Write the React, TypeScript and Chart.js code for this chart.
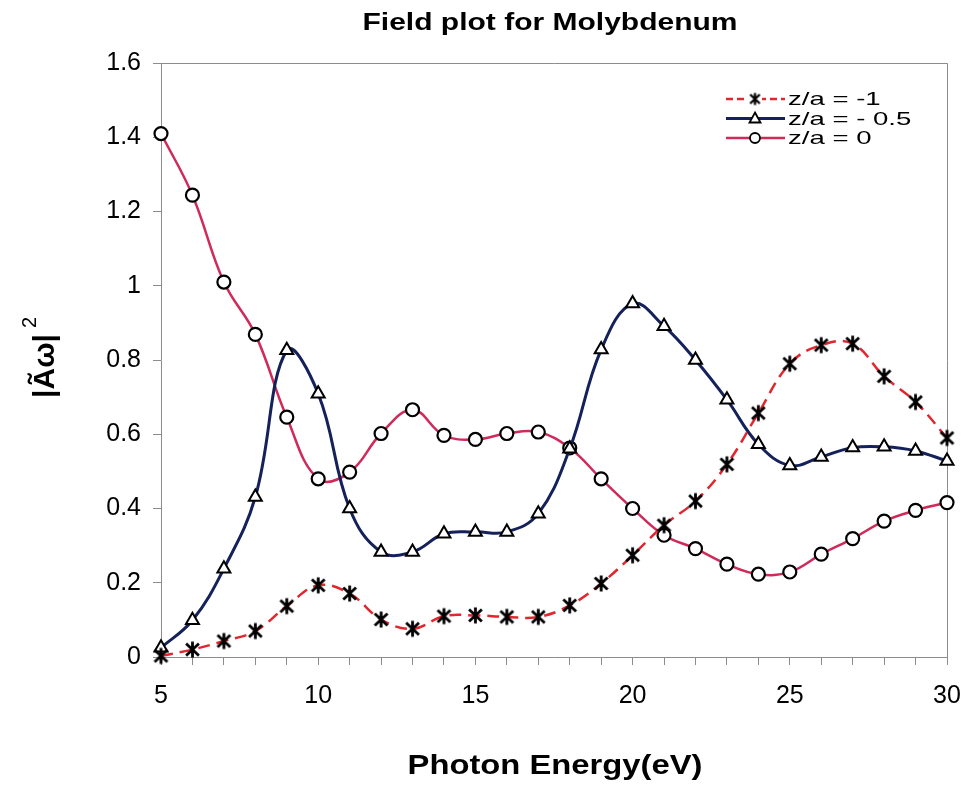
import React, { useEffect, useRef } from 'react';
import { Chart, registerables } from 'chart.js';

Chart.register(...registerables);

const energies = [5, 6, 7, 8, 9, 10, 11, 12, 13, 14, 15, 16, 17, 18, 19, 20, 21, 22, 23, 24, 25, 26, 27, 28, 29, 30];
const zaMinus1 = [0.003, 0.02, 0.043, 0.07, 0.137, 0.193, 0.171, 0.101, 0.076, 0.11, 0.112, 0.108, 0.108, 0.139, 0.198, 0.274, 0.355, 0.42, 0.519, 0.657, 0.79, 0.84, 0.844, 0.756, 0.687, 0.59];
const zaMinusHalf = [0.025, 0.099, 0.238, 0.431, 0.826, 0.709, 0.4, 0.283, 0.283, 0.332, 0.337, 0.337, 0.386, 0.561, 0.828, 0.952, 0.891, 0.8, 0.693, 0.573, 0.516, 0.539, 0.564, 0.566, 0.555, 0.528];
const zaZero = [1.41, 1.244, 1.01, 0.869, 0.646, 0.48, 0.498, 0.602, 0.666, 0.597, 0.586, 0.602, 0.606, 0.563, 0.48, 0.4, 0.328, 0.292, 0.25, 0.223, 0.229, 0.277, 0.319, 0.366, 0.395, 0.416];

const seriesNames = ['z/a = -1', 'z/a = - 0.5', 'z/a = 0'];
const xTickLabels = [5, 10, 15, 20, 25, 30];
const yTickLabels = ['0', '0.2', '0.4', '0.6', '0.8', '1', '1.2', '1.4', '1.6'];
const chartTitle = 'Field plot for Molybdenum';
const xAxisTitle = 'Photon Energy(eV)';
const yAxisTitle = '|Ãω|';
const yAxisTitleSup = '2';

const COLOR_M1 = '#e3262e';
const COLOR_MH = '#14215a';
const COLOR_Z = '#cf2a5a';
const FONT = '"Liberation Sans", Arial, sans-serif';

function makeStar(size: number, lw: number): HTMLCanvasElement {
  const c = document.createElement('canvas');
  c.width = size;
  c.height = size;
  const g = c.getContext('2d')!;
  const m = size / 2;
  const r = size / 2 - 1.5;
  g.strokeStyle = '#000';
  g.lineWidth = lw;
  g.lineCap = 'butt';
  g.beginPath();
  g.moveTo(m, m - r);
  g.lineTo(m, m + r);
  g.moveTo(m - r * 0.8, m - r * 0.75);
  g.lineTo(m + r * 0.8, m + r * 0.75);
  g.moveTo(m + r * 0.8, m - r * 0.75);
  g.lineTo(m - r * 0.8, m + r * 0.75);
  g.stroke();
  return c;
}

function stretchText(ctx: CanvasRenderingContext2D, text: string, x: number, y: number, sx: number, align: CanvasTextAlign) {
  ctx.save();
  ctx.translate(x, y);
  ctx.scale(sx, 1);
  ctx.textAlign = align;
  ctx.fillText(text, 0, 0);
  ctx.restore();
}

export default function App() {
  const ref = useRef<HTMLCanvasElement | null>(null);

  useEffect(() => {
    document.body.style.margin = '0';
    const canvas = ref.current;
    if (!canvas) return;
    const star = makeStar(19, 2.8);
    const starSmall = makeStar(15, 2.3);

    const decor = {
      id: 'decor',
      beforeDatasetsDraw(chart: any) {
        const { ctx, chartArea: a } = chart;
        ctx.save();
        ctx.strokeStyle = '#8c8c8c';
        ctx.lineWidth = 1;
        ctx.beginPath();
        ctx.moveTo(a.left, Math.round(a.top) + 0.5);
        ctx.lineTo(Math.round(a.right) + 0.5, Math.round(a.top) + 0.5);
        ctx.lineTo(Math.round(a.right) + 0.5, a.bottom);
        ctx.stroke();
        ctx.restore();
      },
      afterDraw(chart: any) {
        const ctx: CanvasRenderingContext2D = chart.ctx;
        ctx.save();
        ctx.fillStyle = '#000';
        ctx.textBaseline = 'alphabetic';
        // Title
        ctx.font = `bold 24px ${FONT}`;
        stretchText(ctx, chartTitle, 550, 30, 1.25, 'center');
        // X axis title
        ctx.font = `bold 28px ${FONT}`;
        stretchText(ctx, xAxisTitle, 555, 774, 1.17, 'center');
        // Y axis title (rotated)
        ctx.save();
        ctx.translate(54, 366);
        ctx.rotate(-Math.PI / 2);
        ctx.font = `bold 30px ${FONT}`;
        ctx.textAlign = 'center';
        ctx.fillText(yAxisTitle, 0, 0);
        const w = ctx.measureText(yAxisTitle).width;
        ctx.font = `20px ${FONT}`;
        ctx.textAlign = 'left';
        ctx.fillText(yAxisTitleSup, w / 2 + 6, -18);
        ctx.restore();

        // Legend
        const rows = [
          { color: COLOR_M1, dash: [7, 4], marker: 'star', width: 2.5 },
          { color: COLOR_MH, dash: [], marker: 'triangle', width: 3 },
          { color: COLOR_Z, dash: [], marker: 'circle', width: 2.5 },
        ];
        const x0 = 726, x1 = 785, xm = 755;
        rows.forEach((r, i) => {
          const y = 99 + i * 19.5;
          ctx.save();
          ctx.strokeStyle = r.color;
          ctx.lineWidth = r.width;
          ctx.setLineDash(r.dash);
          ctx.beginPath();
          ctx.moveTo(x0, y);
          ctx.lineTo(x1, y);
          ctx.stroke();
          ctx.setLineDash([]);
          ctx.lineWidth = 1.8;
          ctx.strokeStyle = '#000';
          ctx.fillStyle = '#fff';
          if (r.marker === 'star') {
            ctx.fillRect(xm - 7, y - 7, 14, 14);
            ctx.drawImage(starSmall, xm - starSmall.width / 2, y - starSmall.height / 2);
          } else if (r.marker === 'triangle') {
            ctx.beginPath();
            ctx.moveTo(xm, y - 6);
            ctx.lineTo(xm + 5.5, y + 4);
            ctx.lineTo(xm - 5.5, y + 4);
            ctx.closePath();
            ctx.fill();
            ctx.stroke();
          } else {
            ctx.beginPath();
            ctx.arc(xm, y, 5, 0, Math.PI * 2);
            ctx.fill();
            ctx.stroke();
          }
          ctx.restore();
          ctx.fillStyle = '#000';
          ctx.font = `19px ${FONT}`;
          ctx.textBaseline = 'middle';
          stretchText(ctx, seriesNames[i], 788, y + 1, 1.45, 'left');
        });
        ctx.restore();
      },
    };

    const mk = (vals: number[]) => energies.map((x, i) => ({ x, y: vals[i] }));

    const chart = new Chart(canvas, {
      type: 'line',
      data: {
        datasets: [
          {
            label: seriesNames[0],
            data: mk(zaMinus1),
            borderColor: COLOR_M1,
            borderWidth: 2.5,
            borderDash: [12, 7],
            tension: 0.4,
            pointStyle: star as any,
            pointRadius: 9,
            clip: false as any,
          },
          {
            label: seriesNames[1],
            data: mk(zaMinusHalf),
            borderColor: COLOR_MH,
            borderWidth: 3,
            tension: 0.4,
            pointStyle: 'triangle',
            pointRadius: 7.5,
            pointBorderColor: '#000',
            pointBackgroundColor: '#fff',
            pointBorderWidth: 2,
            clip: false as any,
          },
          {
            label: seriesNames[2],
            data: mk(zaZero),
            borderColor: COLOR_Z,
            borderWidth: 2.5,
            tension: 0.4,
            pointStyle: 'circle',
            pointRadius: 6.5,
            pointBorderColor: '#000',
            pointBackgroundColor: '#fff',
            pointBorderWidth: 2.2,
            clip: false as any,
          },
        ],
      },
      options: {
        responsive: false,
        animation: false,
        events: [],
        layout: { padding: { top: 63, right: 24, left: 0, bottom: 0 } },
        plugins: {
          legend: { display: false },
          title: { display: false },
          tooltip: { enabled: false },
        },
        scales: {
          x: {
            type: 'linear',
            min: 5,
            max: 30,
            afterFit: (s: any) => {
              s.height = 133;
              s.paddingLeft = 0;
              s.paddingRight = 12;
            },
            ticks: {
              stepSize: 1,
              autoSkip: false,
              maxRotation: 0,
              padding: 16,
              color: '#000',
              font: { family: FONT, size: 25 },
              callback: (v: any) => (xTickLabels.includes(Number(v)) ? String(v) : ''),
            },
            grid: { drawOnChartArea: false, drawTicks: true, tickLength: 8, color: '#8c8c8c' },
            border: { color: '#8c8c8c', width: 1 },
          },
          y: {
            type: 'linear',
            min: 0,
            max: 1.6,
            afterFit: (s: any) => { s.width = 161; },
            ticks: {
              stepSize: 0.2,
              autoSkip: false,
              padding: 12,
              color: '#000',
              font: { family: FONT, size: 25 },
              callback: (_v: any, i: number) => yTickLabels[i],
            },
            grid: { drawOnChartArea: false, drawTicks: true, tickLength: 8, color: '#8c8c8c' },
            border: { color: '#8c8c8c', width: 1 },
          },
        },
      },
      plugins: [decor],
    });
    return () => chart.destroy();
  }, []);

  return (
    <div style={{ width: 971, height: 790, background: '#fff' }}>
      <canvas ref={ref} width={971} height={790} style={{ width: 971, height: 790, display: 'block' }} />
    </div>
  );
}
